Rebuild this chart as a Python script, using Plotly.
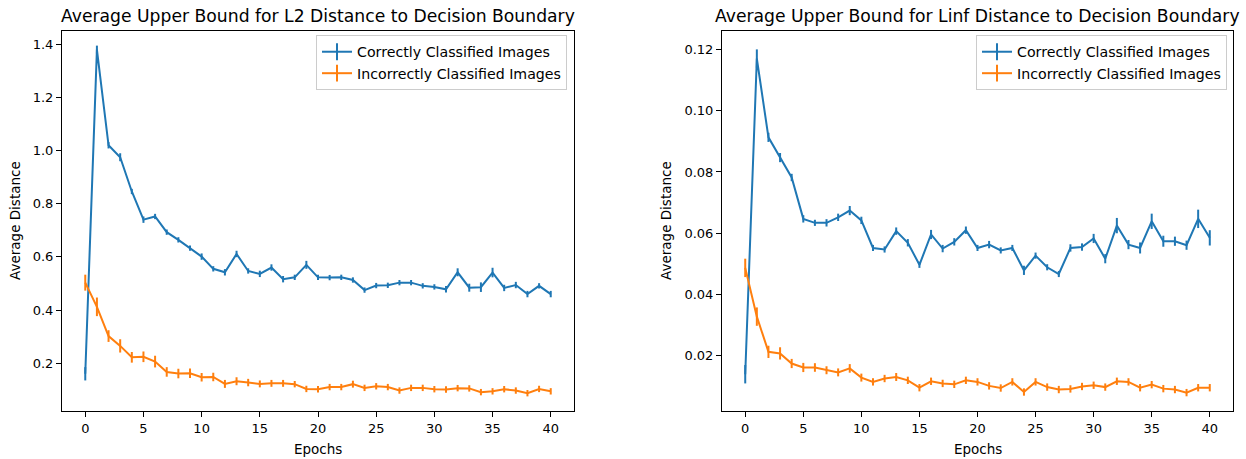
import plotly.graph_objects as go

epochs = list(range(41))

l2_correct = [0.16, 1.38, 1.02, 0.975, 0.846, 0.740, 0.752, 0.693, 0.664, 0.633, 0.601,
              0.555, 0.542, 0.611, 0.547, 0.536, 0.560, 0.516, 0.523, 0.570, 0.523,
              0.522, 0.523, 0.513, 0.475, 0.492, 0.493, 0.503, 0.503, 0.491, 0.487,
              0.478, 0.542, 0.484, 0.486, 0.541, 0.483, 0.494, 0.460, 0.491, 0.460]
l2_correct_err = [0.025, 0.015, 0.012, 0.015, 0.010, 0.012, 0.010, 0.010, 0.010, 0.010, 0.012,
                  0.010, 0.012, 0.012, 0.010, 0.012, 0.012, 0.012, 0.010, 0.015, 0.010,
                  0.010, 0.010, 0.010, 0.010, 0.010, 0.010, 0.010, 0.010, 0.010, 0.010,
                  0.012, 0.015, 0.015, 0.018, 0.018, 0.012, 0.012, 0.012, 0.010, 0.012]
l2_incorrect = [0.503, 0.412, 0.302, 0.265, 0.222, 0.224, 0.206, 0.167, 0.161, 0.162, 0.147,
                0.148, 0.122, 0.132, 0.127, 0.122, 0.124, 0.124, 0.121, 0.103, 0.102,
                0.110, 0.110, 0.121, 0.107, 0.113, 0.110, 0.097, 0.107, 0.107, 0.102,
                0.101, 0.106, 0.105, 0.091, 0.094, 0.102, 0.097, 0.087, 0.103, 0.094]
l2_incorrect_err = [0.030, 0.035, 0.022, 0.025, 0.020, 0.020, 0.022, 0.018, 0.018, 0.018, 0.016,
                    0.016, 0.015, 0.015, 0.014, 0.013, 0.013, 0.013, 0.012, 0.012, 0.012,
                    0.012, 0.012, 0.013, 0.012, 0.012, 0.012, 0.012, 0.012, 0.012, 0.012,
                    0.012, 0.012, 0.012, 0.012, 0.012, 0.012, 0.012, 0.012, 0.012, 0.012]

linf_correct = [0.014, 0.117, 0.0913, 0.0847, 0.0782, 0.0647, 0.0634, 0.0634, 0.0652, 0.0674, 0.0642,
                0.0552, 0.0547, 0.0607, 0.0569, 0.0497, 0.0596, 0.0550, 0.0572, 0.0610, 0.0552,
                0.0563, 0.0544, 0.0552, 0.0479, 0.0527, 0.0489, 0.0467, 0.0552, 0.0555, 0.0583,
                0.0517, 0.0625, 0.0563, 0.0552, 0.0639, 0.0574, 0.0574, 0.0561, 0.0647, 0.0585]
linf_correct_err = [0.003, 0.003, 0.0015, 0.0015, 0.0012, 0.0012, 0.0010, 0.0012, 0.0012, 0.0015, 0.0012,
                    0.0010, 0.0010, 0.0012, 0.0012, 0.0010, 0.0015, 0.0012, 0.0012, 0.0012, 0.0010,
                    0.0012, 0.0010, 0.0010, 0.0015, 0.0010, 0.0010, 0.0010, 0.0012, 0.0012, 0.0015,
                    0.0015, 0.0025, 0.0015, 0.0018, 0.0025, 0.0018, 0.0015, 0.0015, 0.0030, 0.0025]
linf_incorrect = [0.0487, 0.0328, 0.0213, 0.0208, 0.0175, 0.0162, 0.0162, 0.0153, 0.0146, 0.0159, 0.0129,
                  0.0115, 0.0126, 0.0131, 0.0120, 0.0096, 0.0117, 0.0110, 0.0107, 0.0120, 0.0115,
                  0.0102, 0.0095, 0.0115, 0.0082, 0.0115, 0.0098, 0.0090, 0.0092, 0.0100, 0.0104,
                  0.0098, 0.0117, 0.0115, 0.0096, 0.0106, 0.0093, 0.0090, 0.0080, 0.0096, 0.0096]
linf_incorrect_err = [0.003, 0.003, 0.002, 0.002, 0.0015, 0.0015, 0.0014, 0.0013, 0.0013, 0.0014, 0.0013,
                      0.0012, 0.0012, 0.0013, 0.0012, 0.0012, 0.0012, 0.0012, 0.0012, 0.0012, 0.0012,
                      0.0012, 0.0012, 0.0012, 0.0012, 0.0012, 0.0012, 0.0012, 0.0012, 0.0012, 0.0012,
                      0.0012, 0.0012, 0.0012, 0.0012, 0.0012, 0.0012, 0.0012, 0.0012, 0.0012, 0.0012]

series_names = ["Correctly Classified Images", "Incorrectly Classified Images"]
titles = ["Average Upper Bound for L2 Distance to Decision Boundary",
          "Average Upper Bound for Linf Distance to Decision Boundary"]
x_ticks = [0, 5, 10, 15, 20, 25, 30, 35, 40]
l2_yticks = [0.2, 0.4, 0.6, 0.8, 1.0, 1.2, 1.4]
linf_yticks = [0.02, 0.04, 0.06, 0.08, 0.10, 0.12]

BLUE = "#1f77b4"
ORANGE = "#ff7f0e"
FONT = "DejaVu Sans"
W, H = 1246, 459

fig = go.Figure()

panels = [
    ("x", "y", "legend", [(l2_correct, l2_correct_err), (l2_incorrect, l2_incorrect_err)]),
    ("x2", "y2", "legend2", [(linf_correct, linf_correct_err), (linf_incorrect, linf_incorrect_err)]),
]
colors = [BLUE, ORANGE]

for xa, ya, leg, data in panels:
    for (vals, errs), col in zip(data, colors):
        fig.add_trace(go.Scatter(
            x=epochs, y=vals, xaxis=xa, yaxis=ya, mode="lines",
            line=dict(color=col, width=2),
            error_y=dict(type="data", array=errs, visible=True, color=col,
                         thickness=2, width=0),
            showlegend=False, hoverinfo="skip"))
    for name, col in zip(series_names, colors):
        fig.add_trace(go.Scatter(
            x=[None], y=[None], xaxis=xa, yaxis=ya, mode="lines+markers",
            name=name, legend=leg,
            line=dict(color=col, width=2),
            marker=dict(symbol="line-ns", size=12, color=col,
                        line=dict(color=col, width=2))))

# geometry (pixels)
ax_left = [(62, 574), (722, 1233)]
ax_top, ax_bot = 31, 411

def px(x):
    return x / W

def py(y):
    return 1 - y / H

axis_common = dict(showline=True, linecolor="black", linewidth=1, mirror=True,
                   ticks="outside", ticklen=5, tickwidth=1, tickcolor="black",
                   showgrid=False, zeroline=False,
                   tickfont=dict(family=FONT, size=13, color="black"))

fig.update_layout(
    xaxis=dict(domain=[px(ax_left[0][0]), px(ax_left[0][1])], range=[-2, 42],
               tickvals=x_ticks, anchor="y", **axis_common),
    yaxis=dict(domain=[py(ax_bot), py(ax_top)], range=[0.02, 1.45],
               tickvals=l2_yticks, tickformat=".1f", anchor="x", **axis_common),
    xaxis2=dict(domain=[px(ax_left[1][0]), px(ax_left[1][1])], range=[-2, 42],
                tickvals=x_ticks, anchor="y2", **axis_common),
    yaxis2=dict(domain=[py(ax_bot), py(ax_top)], range=[0.002, 0.126],
                tickvals=linf_yticks, tickformat=".2f", anchor="x2", **axis_common),
)

legend_common = dict(bgcolor="rgba(255,255,255,0.8)", bordercolor="#cccccc", borderwidth=1,
                     font=dict(family=FONT, size=14.2, color="black"),
                     xanchor="right", yanchor="top", tracegroupgap=0)
fig.update_layout(
    legend=dict(x=px(567), y=py(35), **legend_common),
    legend2=dict(x=px(1227), y=py(35), **legend_common),
)

annotations = []
for (l, r), t, ylab_x in zip(ax_left, titles, [15, 666]):
    cx = (l + r) / 2
    annotations.append(dict(text=t, x=px(cx), y=py(16), xref="paper", yref="paper",
                            showarrow=False, xanchor="center", yanchor="middle",
                            font=dict(family=FONT, size=17.2, color="black")))
    annotations.append(dict(text="Epochs", x=px(cx), y=py(449), xref="paper", yref="paper",
                            showarrow=False, xanchor="center", yanchor="middle",
                            font=dict(family=FONT, size=13.5, color="black")))
    annotations.append(dict(text="Average Distance", x=px(ylab_x), y=py((ax_top + ax_bot) / 2),
                            xref="paper", yref="paper", textangle=-90,
                            showarrow=False, xanchor="center", yanchor="middle",
                            font=dict(family=FONT, size=13.5, color="black")))

fig.update_layout(
    annotations=annotations,
    width=W, height=H,
    margin=dict(l=0, r=0, t=0, b=0),
    paper_bgcolor="white", plot_bgcolor="white",
    font=dict(family=FONT, color="black"),
)

fig.write_html("out.html", config={"displayModeBar": False},
               post_script="document.body.style.margin='0px';document.body.style.overflow='hidden';")
